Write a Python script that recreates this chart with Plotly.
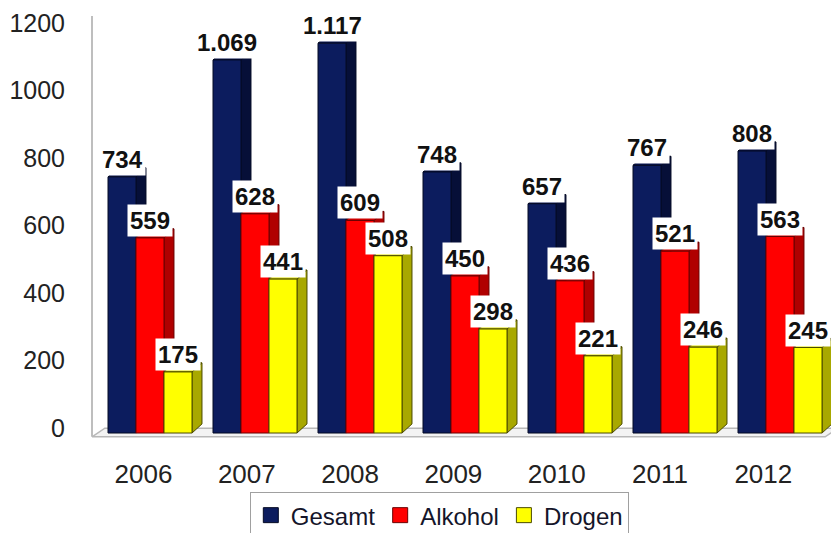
import plotly.graph_objects as go

years = ["2006", "2007", "2008", "2009", "2010", "2011", "2012"]
gesamt = [734, 1069, 1117, 748, 657, 767, 808]
alkohol = [559, 628, 609, 450, 436, 521, 563]
drogen = [175, 441, 508, 298, 221, 246, 245]

series = [
    ("Gesamt", gesamt, "#0c1c5e", "#060f38", "#0a1650", "#040a24"),
    ("Alkohol", alkohol, "#ff0000", "#b00000", "#d00000", "#6a0000"),
    ("Drogen", drogen, "#ffff00", "#a8a800", "#dcdc00", "#4a4a00"),
]

# fake 3d: width of one bar, depth offset in x and y (data units)
w = 0.8 / 3
dx = 0.095
dy = 26

fig = go.Figure()

# floor
fig.add_shape(type="path", xref="x", yref="y",
              path="M -0.5524,-11 L 6.43,-11 L 6.5524,14 L -0.43,14 Z",
              fillcolor="#f3f3f3", line=dict(color="#b8b8b8", width=1.5), layer="below")
# left wall line
fig.add_shape(type="line", xref="paper", yref="y", x0=0, x1=0, y0=-11, y1=1195,
              line=dict(color="#a8a8a8", width=1.5), layer="below")

for k, (name, vals, c_front, c_side, c_top, c_line) in enumerate(series):
    sx, sy, tx, ty, fx, fy = [], [], [], [], [], []
    for i, v in enumerate(vals):
        left = i - 0.4 + k * w
        right = left + w
        sx += [right, right + dx, right + dx, right, right, None]
        sy += [0, dy, v + dy, v, 0, None]
        tx += [left, left + dx, right + dx, right, left, None]
        ty += [v, v + dy, v + dy, v, v, None]
        fx += [left, right, right, left, left, None]
        fy += [0, 0, v, v, 0, None]
    for xs, ys, col in [(sx, sy, c_side), (tx, ty, c_top), (fx, fy, c_front)]:
        fig.add_trace(go.Scatter(x=xs, y=ys, fill="toself", fillcolor=col, mode="lines",
                                 line=dict(color=c_line, width=1), showlegend=False,
                                 hoverinfo="skip"))
    for i, v in enumerate(vals):
        fig.add_annotation(x=i - 0.4 + k * w + w / 2, y=v, xref="x", yref="y",
                           text="<b>" + f"{v:,}".replace(",", ".") + "</b>",
                           showarrow=False, yanchor="bottom", yshift=1,
                           bgcolor="white", borderpad=2,
                           font=dict(size=24, color="#111111", family="Liberation Sans"))

for name, vals, c_front, c_side, c_top, c_line in series:
    fig.add_trace(go.Scatter(x=[None], y=[None], mode="markers", name=name,
                             marker=dict(symbol="square", size=15, color=c_front,
                                         line=dict(color=c_line, width=1))))

# tick axes sit on the "back wall", slightly offset from the bar faces
fig.add_trace(go.Scatter(x=[None], y=[None], xaxis="x2", yaxis="y2",
                         showlegend=False, hoverinfo="skip"))

# page body has an 8px margin, so the figure is a bit smaller than the window
fig.update_layout(
    width=831, height=525,
    margin=dict(l=84, r=1, t=6, b=93, autoexpand=False),
    plot_bgcolor="white", paper_bgcolor="white",
    font=dict(family="Liberation Sans", color="#222222"),
    xaxis=dict(range=[-0.5524, 6.5524], visible=False, automargin=False),
    yaxis=dict(range=[-20, 1200.6], visible=False, automargin=False),
    xaxis2=dict(range=[-0.4985, 6.723], overlaying="x", side="bottom",
                tickvals=list(range(len(years))), ticktext=years, automargin=False,
                showgrid=False, zeroline=False, showline=False, ticks="",
                ticklabelstandoff=16, tickfont=dict(size=26, color="#222222")),
    yaxis2=dict(range=[-35.6, 1226.7], overlaying="y", side="left", automargin=False,
                tickvals=[0, 200, 400, 600, 800, 1000, 1200], ticklabeloverflow="allow",
                showgrid=False, zeroline=False, showline=False, ticks="",
                ticklabelstandoff=26, tickfont=dict(size=25, color="#222222")),
    legend=dict(orientation="h", xref="container", yref="container",
                x=0.291, y=0.078, xanchor="left", yanchor="top",
                bordercolor="#a0a0a0", borderwidth=1,
                font=dict(size=24, color="#15152a")),
)

fig.write_html("out.html")
